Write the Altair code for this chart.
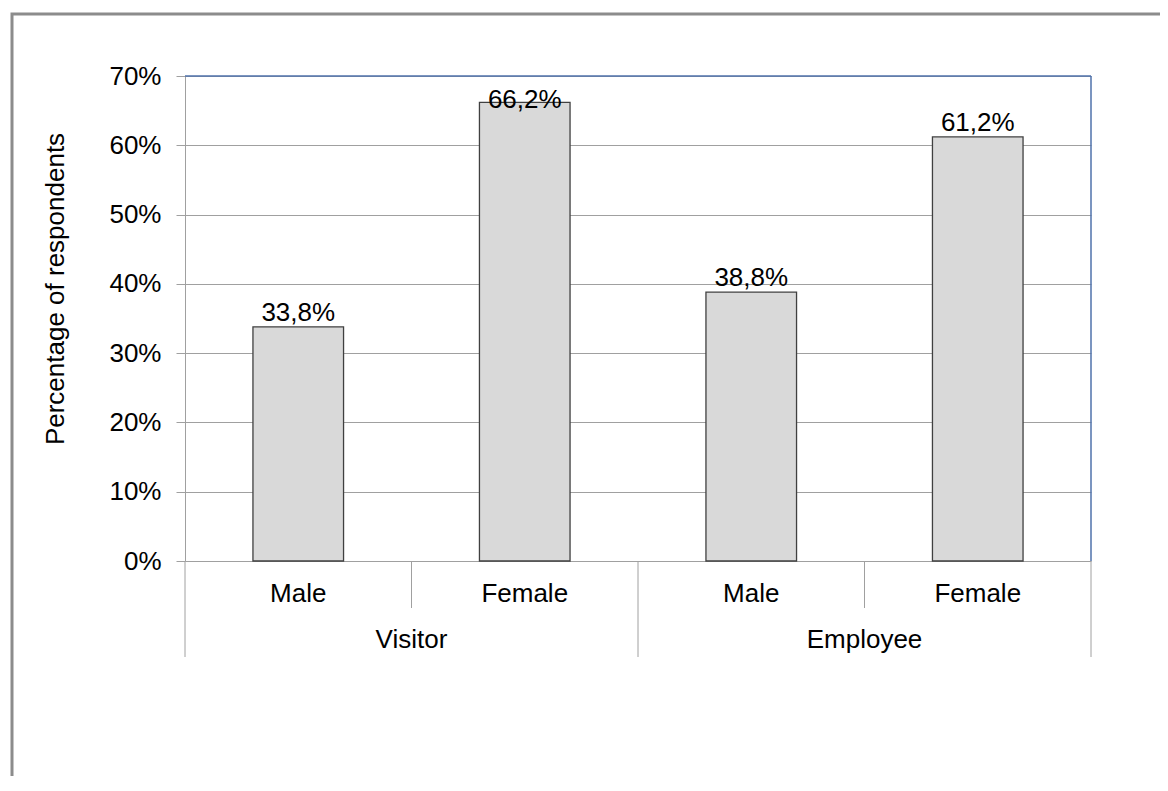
import altair as alt
import pandas as pd

# ---- data ----
groups = ["Visitor", "Visitor", "Employee", "Employee"]
genders = ["Male", "Female", "Male", "Female"]
values = [33.8, 66.2, 38.8, 61.2]
y_ticks = [0, 10, 20, 30, 40, 50, 60, 70]

keys = [f"{g} {s}" for g, s in zip(groups, genders)]
df = pd.DataFrame({"key": keys, "group": groups, "gender": genders, "value": values})

W, H = 906, 485
FONT = "Liberation Sans"
FS = 26
GRID = "#a0a0a0"
BLUE = "#4f72ab"

xscale = alt.Scale(domain=keys, paddingInner=0, paddingOuter=0)
yscale = alt.Scale(domain=[0, 70], nice=False)

yaxis = alt.Axis(
    values=y_ticks,
    labelExpr="datum.value + '%'",
    title="Percentage of respondents",
    titleFontSize=FS,
    titleFont=FONT,
    titleFontWeight="normal",
    titleColor="black",
    titleAngle=270,
    titleX=-130,
    titleY=212.5,
    titleAlign="center",
    titleBaseline="middle",
    labelFont=FONT,
    labelFontSize=FS,
    labelColor="black",
    labelPadding=15,
    tickSize=9,
    tickColor=GRID,
    domainColor=GRID,
    gridColor=GRID,
    grid=True,
)


def X(bp=None):
    if bp is None:
        return alt.X("key:N", sort=keys, axis=None, scale=xscale)
    return alt.X("key:N", sort=keys, axis=None, scale=xscale, bandPosition=bp)


base = alt.Chart(df)

frame = base.transform_aggregate(n="count()").mark_rect(
    fill="transparent", stroke="#8c8c8c", strokeWidth=3
).encode(
    x=alt.value(-173), x2=alt.value(W + 300),
    y=alt.value(-62), y2=alt.value(H + 400),
)

bars = base.mark_bar(
    width=alt.RelativeBandSize(0.4), fill="#d9d9d9", stroke="#404040", strokeWidth=1.3
).encode(
    x=X(),
    y=alt.Y("value:Q", scale=yscale, axis=yaxis, title="Percentage of respondents"),
)

value_labels = base.transform_calculate(
    label="replace(format(datum.value, '.1f'), '.', ',') + '%'",
    ly="min(datum.value + 0.85, 65.4)",
).mark_text(
    font=FONT, fontSize=FS, color="black", baseline="alphabetic", align="center"
).encode(
    x=X(),
    y=alt.Y("ly:Q", scale=yscale, axis=yaxis, title="Percentage of respondents"),
    text="label:N",
)

top_rule = base.transform_aggregate(n="count()").mark_rule(
    color=BLUE, strokeWidth=1.5
).encode(x=alt.value(0), x2=alt.value(W), y=alt.value(0))

right_rule = base.transform_aggregate(n="count()").mark_rule(
    color=BLUE, strokeWidth=1.5
).encode(x=alt.value(W), y=alt.value(0), y2=alt.value(H))

gender_labels = base.mark_text(
    font=FONT, fontSize=FS, color="black", baseline="alphabetic", align="center"
).encode(x=X(), y=alt.value(H + 41), text="gender:N")

group_labels = base.transform_filter("datum.gender == 'Male'").mark_text(
    font=FONT, fontSize=FS, color="black", baseline="alphabetic", align="center"
).encode(x=X(1), y=alt.value(H + 87), text="group:N")

long_seps = base.transform_filter("datum.gender == 'Male'").mark_rule(
    color=GRID, strokeWidth=1
).encode(x=X(0), y=alt.value(H), y2=alt.value(H + 96))

end_sep = base.transform_filter(f"datum.key == '{keys[-1]}'").mark_rule(
    color=GRID, strokeWidth=1
).encode(x=X(1), y=alt.value(H), y2=alt.value(H + 96))

short_seps = base.transform_filter("datum.gender == 'Female'").mark_rule(
    color=GRID, strokeWidth=1
).encode(x=X(0), y=alt.value(H), y2=alt.value(H + 47))

chart = alt.layer(
    frame, bars, value_labels, top_rule, right_rule,
    gender_labels, group_labels, long_seps, end_sep, short_seps,
).properties(
    width=W,
    height=H,
    autosize=alt.AutoSizeParams(type="none"),
    padding={"left": 177, "top": 68, "right": 69, "bottom": 215},
    background="white",
).configure_view(stroke="transparent")

chart.save("out.html", embed_options={"renderer": "svg", "actions": False})
